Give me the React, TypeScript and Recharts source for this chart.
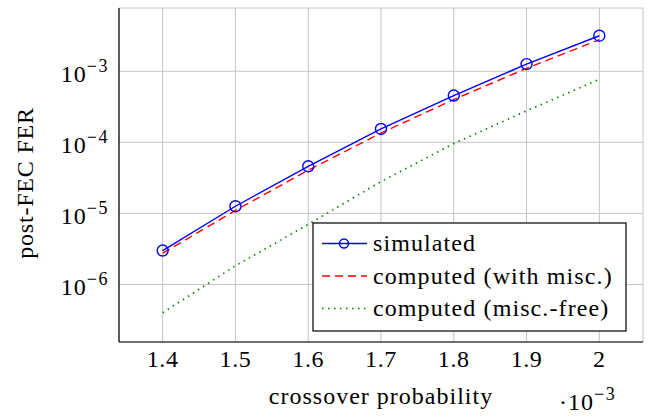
import { LineChart, Line, XAxis, YAxis, CartesianGrid, Label } from 'recharts'

// crossover probability (x 10^-3)
const crossover = [1.4, 1.5, 1.6, 1.7, 1.8, 1.9, 2.0]
const simulated = [3.0e-6, 1.26e-5, 4.6e-5, 1.54e-4, 4.55e-4, 1.26e-3, 3.16e-3]
const computedMisc = [2.75e-6, 1.1e-5, 4.05e-5, 1.35e-4, 4.0e-4, 1.1e-3, 2.78e-3]
const computedFree = [4.0e-7, 1.83e-6, 7.0e-6, 2.8e-5, 9.6e-5, 2.77e-4, 7.7e-4]

const xTicks = [1.4, 1.5, 1.6, 1.7, 1.8, 1.9, 2.0]
const yTicks = [1e-6, 1e-5, 1e-4, 1e-3]
const decades = [1e-7, 1e-6, 1e-5, 1e-4, 1e-3]
const mantissas = [2, 3, 4, 5, 6, 7, 8, 9]

const X_DOMAIN = [1.34, 2.06]
const Y_DOMAIN = [Math.pow(10, -6.81), Math.pow(10, -2.11)]

const minorTicks = decades
    .flatMap(d => mantissas.map(m => m * d))
    .filter(v => v > Y_DOMAIN[0] && v < Y_DOMAIN[1])

const data = crossover.map((p, i) => ({
    p,
    simulated: simulated[i],
    computedMisc: computedMisc[i],
    computedFree: computedFree[i]
}))

const legendItems = [
    { name: 'simulated', color: '#0000ff', dash: undefined, marker: true },
    { name: 'computed (with misc.)', color: '#ff0000', dash: '8 5', marker: false },
    { name: 'computed (misc.-free)', color: '#008000', dash: '1.5 4.5', marker: false }
]

const FONT = '"Liberation Serif", "Times New Roman", serif'
const TICK_COLOR = '#808080'
const serif = { fontFamily: FONT }

const XTick = ({ x, y, payload }: any) => (
    <text x={x} y={y + 25} textAnchor="middle" fontFamily={FONT} style={serif} fontSize={24} letterSpacing={0.6} fill="#000">
        {String(payload.value)}
    </text>
)

const PowerTick = ({ x, y, payload }: any) => {
    const exp = Math.round(Math.log10(payload.value))
    return (
        <text x={x} y={y + 11} textAnchor="end" fontFamily={FONT} style={serif} fontSize={24} fill="#000">
            <tspan letterSpacing={1}>10</tspan>
            <tspan dy={-10} fontSize={18} letterSpacing={1.5}>{'\u2212' + Math.abs(exp)}</tspan>
        </text>
    )
}

export default function App() {
    return (
        <div style={{ position: 'absolute', left: 0, top: 0, width: 662, height: 416, background: '#fff' }}>
            <LineChart width={662} height={416} data={data} margin={{ top: 8, right: 19, bottom: 0, left: 0 }}>
                <CartesianGrid stroke="#c4c4c4" strokeWidth={1} />

                {/* main axes with labels */}
                <XAxis
                    dataKey="p"
                    type="number"
                    domain={X_DOMAIN}
                    ticks={xTicks}
                    allowDataOverflow
                    height={74}
                    tickLine={false}
                    tickSize={0}
                    tickMargin={0}
                    tick={<XTick />}
                    axisLine={{ stroke: '#000', strokeWidth: 1.2 }}
                >
                    <Label
                        content={({ viewBox }: any) => (
                            <g>
                                <text
                                    x={viewBox.x + viewBox.width / 2}
                                    y={viewBox.y + 62}
                                    textAnchor="middle"
                                    fontFamily={FONT}
                                    style={serif}
                                    fontSize={24}
                                    letterSpacing={1}
                                    fill="#000"
                                >
                                    crossover probability
                                </text>
                                <text x={viewBox.x + 440} y={viewBox.y + 68} fontFamily={FONT} style={serif} fontSize={24} fill="#000">
                                    <tspan letterSpacing={1}>{'\u00b710'}</tspan>
                                    <tspan dy={-10} fontSize={18} letterSpacing={1.5}>{'\u22123'}</tspan>
                                </text>
                            </g>
                        )}
                    />
                </XAxis>
                <YAxis
                    scale="log"
                    type="number"
                    domain={Y_DOMAIN}
                    ticks={yTicks}
                    allowDataOverflow
                    width={119}
                    tickLine={false}
                    tickSize={0}
                    tickMargin={10}
                    tick={<PowerTick />}
                    axisLine={{ stroke: '#000', strokeWidth: 1.2 }}
                >
                    <Label
                        content={() => (
                            <text
                                x={33}
                                y={183}
                                transform="rotate(-90 33 183)"
                                textAnchor="middle"
                                fontFamily={FONT}
                                style={serif}
                                fontSize={24}
                                letterSpacing={0.8}
                                fill="#000"
                            >
                                post-FEC FER
                            </text>
                        )}
                    />
                </YAxis>

                {/* inner tick marks and the top / right frame */}
                <XAxis
                    xAxisId="top"
                    orientation="top"
                    mirror
                    type="number"
                    domain={X_DOMAIN}
                    ticks={xTicks}
                    allowDataOverflow
                    height={0}
                    tick={false}
                    tickSize={10}
                    tickLine={{ stroke: TICK_COLOR }}
                    axisLine={{ stroke: '#000', strokeWidth: 1.2 }}
                />
                <XAxis
                    xAxisId="bottomInner"
                    orientation="bottom"
                    mirror
                    type="number"
                    domain={X_DOMAIN}
                    ticks={xTicks}
                    allowDataOverflow
                    height={0}
                    tick={false}
                    tickSize={10}
                    tickLine={{ stroke: TICK_COLOR }}
                    axisLine={false}
                />
                <YAxis
                    yAxisId="leftMajor"
                    orientation="left"
                    mirror
                    scale="log"
                    type="number"
                    domain={Y_DOMAIN}
                    ticks={yTicks}
                    allowDataOverflow
                    width={0}
                    tick={false}
                    tickSize={11}
                    tickLine={{ stroke: TICK_COLOR }}
                    axisLine={false}
                />
                <YAxis
                    yAxisId="leftMinor"
                    orientation="left"
                    mirror
                    scale="log"
                    type="number"
                    domain={Y_DOMAIN}
                    ticks={minorTicks}
                    allowDataOverflow
                    width={0}
                    tick={false}
                    tickSize={7}
                    tickLine={{ stroke: TICK_COLOR }}
                    axisLine={false}
                />
                <YAxis
                    yAxisId="rightMajor"
                    orientation="right"
                    mirror
                    scale="log"
                    type="number"
                    domain={Y_DOMAIN}
                    ticks={yTicks}
                    allowDataOverflow
                    width={0}
                    tick={false}
                    tickSize={11}
                    tickLine={{ stroke: TICK_COLOR }}
                    axisLine={{ stroke: '#000', strokeWidth: 1.2 }}
                />
                <YAxis
                    yAxisId="rightMinor"
                    orientation="right"
                    mirror
                    scale="log"
                    type="number"
                    domain={Y_DOMAIN}
                    ticks={minorTicks}
                    allowDataOverflow
                    width={0}
                    tick={false}
                    tickSize={7}
                    tickLine={{ stroke: TICK_COLOR }}
                    axisLine={false}
                />

                <Line
                    dataKey="simulated"
                    stroke="#0000ff"
                    strokeWidth={1.4}
                    dot={{ r: 5.5, stroke: '#0000ff', strokeWidth: 1.4, fill: 'none' }}
                    isAnimationActive={false}
                />
                <Line
                    dataKey="computedMisc"
                    stroke="#ff0000"
                    strokeWidth={1.4}
                    strokeDasharray="8 5"
                    dot={false}
                    isAnimationActive={false}
                />
                <Line
                    dataKey="computedFree"
                    stroke="#008000"
                    strokeWidth={1.6}
                    strokeDasharray="1.5 4.5"
                    dot={false}
                    isAnimationActive={false}
                />
            </LineChart>

            {/* legend */}
            <svg width={662} height={416} style={{ position: 'absolute', left: 0, top: 0, pointerEvents: 'none' }}>
                <rect x={313} y={223} width={313} height={108} fill="#fff" stroke="#000" strokeWidth={1.2} />
                {legendItems.map((item, i) => {
                    const cy = 243.5 + i * 32.5
                    return (
                        <g key={item.name}>
                            <line
                                x1={322}
                                x2={367}
                                y1={cy}
                                y2={cy}
                                stroke={item.color}
                                strokeWidth={item.dash === '1.5 4.5' ? 1.6 : 1.4}
                                strokeDasharray={item.dash}
                            />
                            {item.marker && <circle cx={344} cy={cy} r={4.5} fill="none" stroke={item.color} strokeWidth={1.4} />}
                            <text x={373} y={cy + 7.5} fontFamily={FONT} style={serif} fontSize={24} letterSpacing={1.1} fill="#000">
                                {item.name}
                            </text>
                        </g>
                    )
                })}
            </svg>
        </div>
    )
}
